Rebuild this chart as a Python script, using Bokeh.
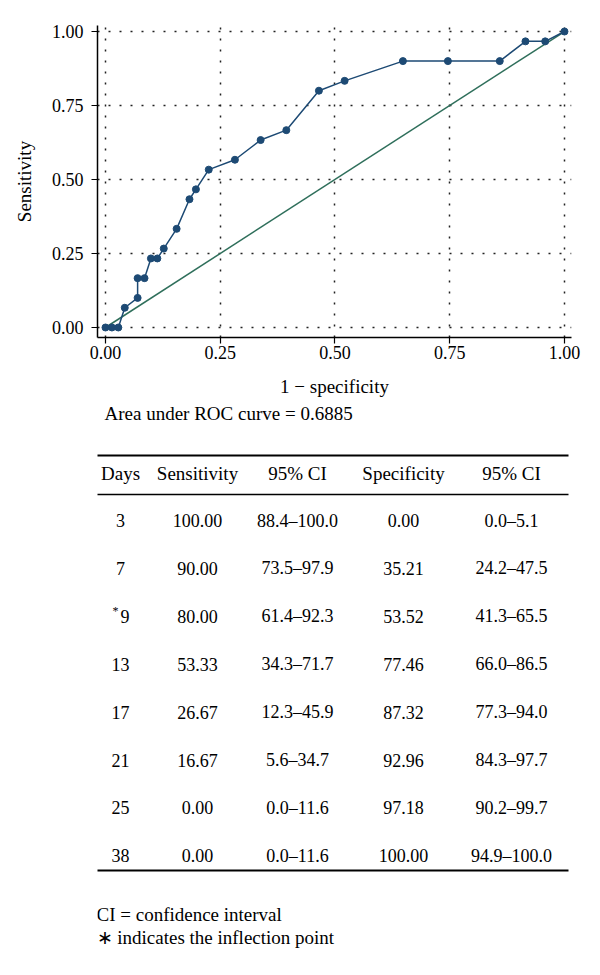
from bokeh.plotting import figure
from bokeh.layouts import column
from bokeh.models import Range1d, FixedTicker, NumeralTickFormatter, ColumnDataSource
from bokeh.core.properties import value
from bokeh.embed import file_html
from bokeh.resources import INLINE

FONT = "Liberation Serif"

# ---------------- data ----------------
# ROC curve points (1 - specificity, sensitivity)
roc_fpr = [0.0, 0.014, 0.028, 0.042, 0.070, 0.070, 0.085, 0.099, 0.113, 0.127,
           0.155, 0.183, 0.197, 0.225, 0.282, 0.338, 0.394, 0.465, 0.521,
           0.648, 0.746, 0.859, 0.915, 0.958, 1.0]
roc_sens = [0.0, 0.0, 0.0, 0.0667, 0.10, 0.1667, 0.1667, 0.2333, 0.2333, 0.2667,
            0.3333, 0.4333, 0.4667, 0.5333, 0.5667, 0.6333, 0.6667, 0.80, 0.8333,
            0.90, 0.90, 0.90, 0.9667, 0.9667, 1.0]
diag_x = [0.0, 1.0]
diag_y = [0.0, 1.0]
tick_vals = [0.0, 0.25, 0.5, 0.75, 1.0]

auc_text = "Area under ROC curve = 0.6885"

headers = ["Days", "Sensitivity", "95% CI", "Specificity", "95% CI"]
days = ["3", "7", "9", "13", "17", "21", "25", "38"]
inflection = [False, False, True, False, False, False, False, False]
sens = ["100.00", "90.00", "80.00", "53.33", "26.67", "16.67", "0.00", "0.00"]
sens_ci = ["88.4–100.0", "73.5–97.9", "61.4–92.3", "34.3–71.7", "12.3–45.9",
           "5.6–34.7", "0.0–11.6", "0.0–11.6"]
spec = ["0.00", "35.21", "53.52", "77.46", "87.32", "92.96", "97.18", "100.00"]
spec_ci = ["0.0–5.1", "24.2–47.5", "41.3–65.5", "66.0–86.5", "77.3–94.0",
           "84.3–97.7", "90.2–99.7", "94.9–100.0"]
footnotes = ["CI = confidence interval", "∗ indicates the inflection point"]

# ---------------- ROC figure ----------------
W = 584
H1 = 400
BL, BR = 97, 13
p = figure(width=W, height=H1, output_backend="svg", toolbar_location=None,
           x_range=Range1d(-0.0174, 1.0153), y_range=Range1d(-0.0338, 1.0203),
           min_border_left=BL, min_border_right=BR, min_border_top=25,
           min_border_bottom=63)
p.outline_line_color = None
p.background_fill_color = "white"
p.border_fill_color = "white"

for ax in (p.xaxis[0], p.yaxis[0]):
    ax.ticker = FixedTicker(ticks=tick_vals)
    ax.formatter = NumeralTickFormatter(format="0.00")
    ax.minor_tick_line_color = None
    ax.major_tick_in = 0
    ax.major_tick_out = 6
    ax.major_tick_line_color = "black"
    ax.major_tick_line_width = 1.2
    ax.axis_line_color = "black"
    ax.axis_line_width = 1.5
    ax.major_label_text_font = FONT
    ax.major_label_text_font_size = "18px"
    ax.major_label_text_color = "black"
    ax.axis_label_text_font = FONT
    ax.axis_label_text_font_size = "19px"
    ax.axis_label_text_font_style = "normal"
    ax.axis_label_text_color = "black"

p.xaxis.axis_label = "1 − specificity"
p.yaxis.axis_label = "Sensitivity"
p.xaxis.major_label_standoff = 2
p.yaxis.major_label_standoff = 8
p.xaxis.axis_label_standoff = 14
p.yaxis.axis_label_standoff = 14

for g in (p.xgrid[0], p.ygrid[0]):
    g.ticker = FixedTicker(ticks=tick_vals)
    g.grid_line_color = "#222222"
    g.grid_line_width = 1.5
    g.grid_line_dash = "2 9"

p.line(diag_x, diag_y, line_color="#2f6f5b", line_width=1.5)
p.line(roc_fpr, roc_sens, line_color="#1d4a74", line_width=1.5)
p.scatter(roc_fpr, roc_sens, size=7, fill_color="#1d4a74", line_color="#1d4a74")

# ---------------- table figure ----------------
# column layouts align the frames, so the table frame spans the same pixels
# as the ROC frame; its x range is given in page pixels.
H2 = 567
t = figure(width=W, height=H2, output_backend="svg", toolbar_location=None,
           x_range=Range1d(BL, W - BR), y_range=Range1d(H2, 0),
           x_axis_location=None, y_axis_location=None,
           min_border_left=BL, min_border_right=BR,
           min_border_top=0, min_border_bottom=0)
t.grid.visible = False
t.outline_line_color = None

col_x = [120, 197, 297, 403, 511]
header_y = 73
row0_y = 120
row_step = 47.9

t.text(x=[104], y=[13], text=[auc_text], text_font=value(FONT),
       text_font_size="19px", text_baseline="middle", text_align="left",
       text_color="black")

# rules
t.segment(x0=[94, 94, 94], y0=[55, 94, 470], x1=[568, 568, 568], y1=[55, 94, 470],
          line_color="black", line_width=[2, 1.5, 2])

t.text(x=col_x, y=[header_y] * 5, text=headers, text_font=value(FONT),
       text_font_size="19px", text_baseline="middle", text_align="center",
       text_color="black")

row_y = [row0_y + i * row_step for i in range(len(days))]
day_x = [col_x[0] + (4.5 if f else 0) for f in inflection]
src = ColumnDataSource(dict(y=row_y, days=days, sens=sens, sens_ci=sens_ci,
                            spec=spec, spec_ci=spec_ci, dx=day_x))
t.text(x="dx", y="y", text="days", source=src, text_font=value(FONT),
       text_font_size="18px", text_baseline="middle", text_align="center",
       text_color="black")
for cx, key in zip(col_x[1:], ["sens", "sens_ci", "spec", "spec_ci"]):
    t.text(x=cx, y="y", text=key, source=src, text_font=value(FONT),
           text_font_size="18px", text_baseline="middle", text_align="center",
           text_color="black")

star_y = [y - 5 for y, f in zip(row_y, inflection) if f]
t.text(x=[col_x[0] - 5] * len(star_y), y=star_y, text=["*"] * len(star_y),
       text_font=value(FONT), text_font_size="12px", text_baseline="middle",
       text_align="center", text_color="black")

t.text(x=[96, 96], y=[514, 537], text=footnotes, text_font=value(FONT),
       text_font_size="19px", text_baseline="middle", text_align="left",
       text_color="black")

layout = column(p, t, spacing=0)
open("out.html", "w").write(file_html(layout, INLINE))
